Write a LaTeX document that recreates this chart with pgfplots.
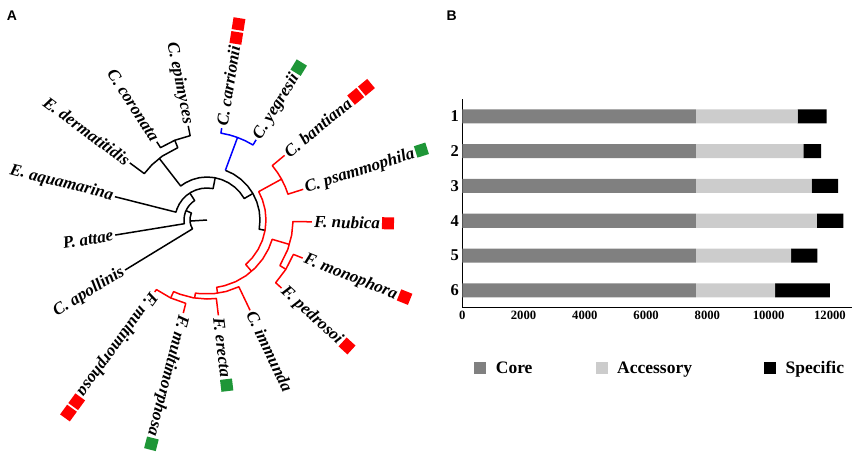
\documentclass[border=0pt]{standalone}
\usepackage{pgfplots}
\pgfplotsset{compat=1.18}
\usepgfplotslibrary{polar}
\usepackage{fontspec}
\setmainfont{Liberation Serif}
\newfontfamily\arialf{Liberation Sans}
\definecolor{trred}{RGB}{255,0,0}
\definecolor{trblue}{RGB}{0,0,255}
\definecolor{sqgreen}{RGB}{30,150,55}
\definecolor{coreg}{RGB}{128,128,128}
\definecolor{accg}{RGB}{204,204,204}
\newcommand{\sqr}[1]{{\color{#1}\raisebox{-0.5pt}{\rule{12pt}{12pt}}}}
\newcommand{\rsq}{\hspace{2pt}\sqr{trred}}
\newcommand{\rsqq}{\hspace{2pt}\sqr{trred}\hspace{2pt}\sqr{trred}}
\newcommand{\gsq}{\hspace{2pt}\sqr{sqgreen}}
\pgfplotsset{sqlegend/.style={legend image code/.code={\fill[##1] (0pt,-6pt) rectangle (12pt,6pt);}}}
\tikzset{tl/.style={line width=1.5pt, line join=round},
  lab/.style={font=\fontsize{17}{17}\selectfont\bfseries\itshape, inner sep=0pt}}
\begin{document}
\begin{tikzpicture}
\path[use as bounding box] (0pt,0pt) rectangle (856pt,-461pt);
\node[font=\arialf\bfseries\fontsize{14}{14}\selectfont] at (12pt,-16pt) {A};
\node[font=\arialf\bfseries\fontsize{14}{14}\selectfont] at (451.7pt,-16pt) {B};

\begin{polaraxis}[at={(207pt,-220pt)}, anchor=center, scale only axis,
  width=240pt, height=240pt, xmin=0, xmax=360, ymin=0, ymax=120,
  hide axis, clip=false, no markers]
% black backbone
\addplot[tl, black] coordinates {(183.6,0) (183.6,17)};
\addplot[tl, black] coordinates {(211.4,96) (211.4,17) (200,17) (190,17) (180,17) (170,17) (160,17) (155.9,17) (155.9,23)};
\addplot[tl, black] coordinates {(189.3,93) (189.3,23) (180,23) (170,23) (160,23) (150,23) (140,23) (130,23) (122.4,23) (122.4,32)};
\addplot[tl, black] coordinates {(165.8,95) (165.8,32) (160,32) (150,32) (140,32) (130,32) (120,32) (110,32) (100,32) (90,32) (79,32) (79,43)};
\addplot[tl, black] coordinates {(127.75,78) (127.75,43) (120,43) (110,43) (100,43) (90,43) (80,43) (70,43) (60,43) (50,43) (40,43) (30,43) (30,53)};
\addplot[tl, black] coordinates {(143.5,96) (143.5,78) (135,78) (125,78) (112,78) (112,86)};
\addplot[tl, black] coordinates {(122.7,93) (122.7,86) (112,86) (101.3,86) (101.3,96)};
\addplot[tl, black] coordinates {(69.7,53) (60,53) (50,53) (40,53) (30,53) (20,53) (10,53) (0,53) (-10,53) (-10,59)};
% blue clade
\addplot[tl, trblue] coordinates {(69.7,53) (69.7,88)};
\addplot[tl, trblue] coordinates {(80.9,93) (80.9,88) (75,88) (69.7,88) (64,88) (58.5,88) (58.5,94)};
% red clade
\addplot[tl, trred] coordinates {(28.75,85) (28.75,59) (20,59) (10,59) (0,59) (-10,59) (-20,59) (-30,59) (-40,59) (-49,59) (-49,68)};
\addplot[tl, trred] coordinates {(39.8,101) (39.8,85) (34,85) (28.75,85) (23,85) (17.7,85) (17.7,101)};
\addplot[tl, trred] coordinates {(-16.5,86) (-16.5,68) (-25,68) (-35,68) (-45,68) (-55,68) (-65,68) (-75,68) (-81.8,68) (-81.8,74)};
\addplot[tl, trred] coordinates {(-1,105) (-1,86) (-10,86) (-20,86) (-32,86) (-32,93)};
\addplot[tl, trred] coordinates {(-21.7,103) (-21.7,93) (-32,93) (-42.4,93) (-42.4,101)};
\addplot[tl, trred] coordinates {(-64.5,100) (-64.5,74) (-75,74) (-85,74) (-95,74) (-99,74) (-99,79)};
\addplot[tl, trred] coordinates {(-83.2,96) (-83.2,79) (-90,79) (-100,79) (-110,79) (-115,79) (-115,86)};
\addplot[tl, trred] coordinates {(-104.3,96) (-104.3,86) (-115,86) (-126,86) (-126,89)};
% labels
\node[lab, rotate=-78.7, anchor=east] at (axis cs:101.3,98) {C. epimyces};
\node[lab, rotate=-57.3, anchor=east] at (axis cs:122.7,95) {C. coronata};
\node[lab, rotate=-36.5, anchor=east] at (axis cs:143.5,98) {E. dermatitidis};
\node[lab, rotate=-14.2, anchor=east] at (axis cs:165.8,97) {E. aquamarina};
\node[lab, rotate=9.3, anchor=east] at (axis cs:189.3,95) {P. attae};
\node[lab, rotate=31.4, anchor=east] at (axis cs:211.4,98) {C. apollinis};
\node[lab, rotate=-126, anchor=west] at (axis cs:-126,91) {F. multimorphosa\rsqq};
\node[lab, rotate=-104.3, anchor=west] at (axis cs:-104.3,98) {F. multimorphosa\gsq};
\node[lab, rotate=-83.2, anchor=west] at (axis cs:-83.2,98) {F. erecta\gsq};
\node[lab, rotate=-64.5, anchor=west] at (axis cs:-64.5,102) {C. immunda};
\node[lab, rotate=-42.4, anchor=west] at (axis cs:-42.4,103) {F. pedrosoi\rsq};
\node[lab, rotate=-21.7, anchor=west] at (axis cs:-21.7,105) {F. monophora\rsq};
\node[lab, rotate=-1, anchor=west] at (axis cs:-1,107) {F. nubica\rsq};
\node[lab, rotate=17.7, anchor=west] at (axis cs:17.7,103) {C. psammophila\gsq};
\node[lab, rotate=39.8, anchor=west] at (axis cs:39.8,103) {C. bantiana\rsqq};
\node[lab, rotate=58.5, anchor=west] at (axis cs:58.5,96) {C. yegresii\gsq};
\node[lab, rotate=80.9, anchor=west] at (axis cs:80.9,95) {C. carrionii\rsqq};
\end{polaraxis}

\begin{axis}[at={(462.3pt,-307.7pt)}, anchor=south west, scale only axis,
  width=390pt, height=208.7pt,
  xbar stacked, bar width=14pt,
  xmin=0, xmax=12730, ymin=0.5, ymax=6.5,
  axis x line*=bottom, axis y line*=left,
  axis line style={line width=1.1pt},
  xtick={0,2000,4000,6000,8000,10000,12000},
  ytick={1,2,3,4,5,6}, yticklabels={6,5,4,3,2,1},
  major tick length=0pt,
  scaled x ticks=false,
  /pgf/number format/assume math mode=true,
  /pgf/number format/set thousands separator={},
  x tick label style={font=\bfseries\fontsize{12.7}{12.7}\selectfont},
  y tick label style={font=\bfseries\fontsize{16.5}{16.5}\selectfont},
  legend style={at={(0.030,-0.289)}, anchor=west, draw=none, fill=none,
    legend columns=3, inner sep=0pt,
    font=\bfseries\fontsize{17.5}{17.5}\selectfont,
    nodes={inner sep=0pt},
    /tikz/column 1/.style={column sep=9.7pt},
    /tikz/column 2/.style={column sep=63pt},
    /tikz/column 3/.style={column sep=9.7pt},
    /tikz/column 4/.style={column sep=72pt},
    /tikz/column 5/.style={column sep=9.7pt}},
]
\addplot[fill=coreg, draw=none, sqlegend] coordinates {(7620,6) (7620,5) (7620,4) (7620,3) (7620,2) (7620,1)};
\addlegendentry{Core}
\addplot[fill=accg, draw=none, sqlegend] coordinates {(3325,6) (3510,5) (3780,4) (3950,3) (3110,2) (2590,1)};
\addlegendentry{Accessory}
\addplot[fill=black, draw=none, sqlegend] coordinates {(945,6) (580,5) (870,4) (870,3) (860,2) (1790,1)};
\addlegendentry{Specific}
\end{axis}
\end{tikzpicture}
\end{document}
